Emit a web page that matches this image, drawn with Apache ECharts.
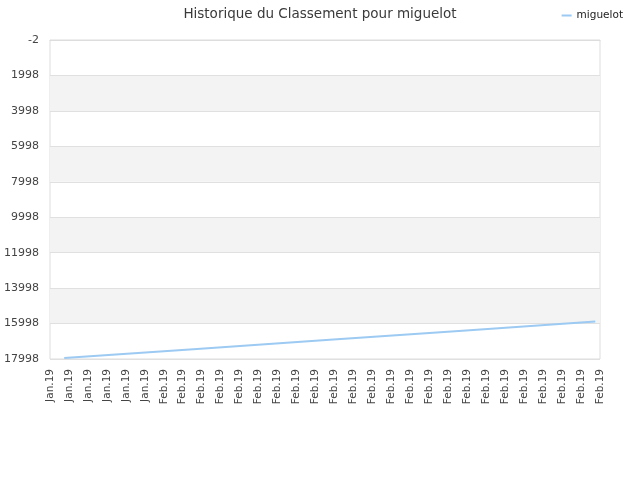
<!DOCTYPE html>
<html>
<head>
<meta charset="utf-8">
<script src="https://cdn.jsdelivr.net/npm/echarts@6/dist/echarts.min.js"></script>
<style>html,body{margin:0;padding:0;background:#fff}#c{width:640px;height:480px}</style>
</head>
<body>
<div id="c"></div>
<script>
const titleText = 'Historique du Classement pour miguelot';
const seriesName = 'miguelot';
// 117 categories: 23 x Jan.19, 94 x Feb.19
const categories = [
  'Jan.19','Jan.19','Jan.19','Jan.19','Jan.19','Jan.19','Jan.19','Jan.19','Jan.19','Jan.19', // 10
  'Jan.19','Jan.19','Jan.19','Jan.19','Jan.19','Jan.19','Jan.19','Jan.19','Jan.19','Jan.19', // 20
  'Jan.19','Jan.19','Jan.19',                                                                 // 23
  'Feb.19','Feb.19','Feb.19','Feb.19','Feb.19','Feb.19','Feb.19','Feb.19','Feb.19','Feb.19', // 10
  'Feb.19','Feb.19','Feb.19','Feb.19','Feb.19','Feb.19','Feb.19','Feb.19','Feb.19','Feb.19', // 20
  'Feb.19','Feb.19','Feb.19','Feb.19','Feb.19','Feb.19','Feb.19','Feb.19','Feb.19','Feb.19', // 30
  'Feb.19','Feb.19','Feb.19','Feb.19','Feb.19','Feb.19','Feb.19','Feb.19','Feb.19','Feb.19', // 40
  'Feb.19','Feb.19','Feb.19','Feb.19','Feb.19','Feb.19','Feb.19','Feb.19','Feb.19','Feb.19', // 50
  'Feb.19','Feb.19','Feb.19','Feb.19','Feb.19','Feb.19','Feb.19','Feb.19','Feb.19','Feb.19', // 60
  'Feb.19','Feb.19','Feb.19','Feb.19','Feb.19','Feb.19','Feb.19','Feb.19','Feb.19','Feb.19', // 70
  'Feb.19','Feb.19','Feb.19','Feb.19','Feb.19','Feb.19','Feb.19','Feb.19','Feb.19','Feb.19', // 80
  'Feb.19','Feb.19','Feb.19','Feb.19','Feb.19','Feb.19','Feb.19','Feb.19','Feb.19','Feb.19', // 90
  'Feb.19','Feb.19','Feb.19','Feb.19'                                                         // 94
];
// [category index, rank]
const rankPoints = [[3, 17950], [31, 17430], [59, 16920], [87, 16400], [115, 15880]];
const yTickValues = [-2, 1998, 3998, 5998, 7998, 9998, 11998, 13998, 15998, 17998];
const yOffset = 2;

const chart = echarts.init(document.getElementById('c'));
chart.setOption({
  animation: false,
  backgroundColor: '#fff',
  textStyle: { fontFamily: 'DejaVu Sans' },
  title: {
    text: titleText, left: 'center', top: 2,
    textStyle: { fontSize: 13.5, fontWeight: 'normal', color: '#3a3a3a', fontFamily: 'DejaVu Sans' }
  },
  legend: {
    data: [seriesName], right: 12, top: 5,
    itemWidth: 10, itemHeight: 2, itemGap: 10,
    icon: 'rect',
    textStyle: { fontSize: 10.5, color: '#222', fontFamily: 'DejaVu Sans' }
  },
  grid: { left: 50, right: 40, top: 40, bottom: 121, show: true, borderColor: '#ddd', borderWidth: 1 },
  xAxis: {
    type: 'category', data: categories, boundaryGap: false,
    axisLine: { lineStyle: { color: '#ddd' } },
    axisTick: { show: false },
    axisLabel: { interval: 3, rotate: 90, fontSize: 10.5, color: '#444', margin: 10, fontFamily: 'DejaVu Sans' },
    splitLine: { show: false }
  },
  yAxis: {
    type: 'value', inverse: true,
    min: yTickValues[0] + yOffset, max: yTickValues[yTickValues.length - 1] + yOffset, interval: 2000,
    axisLine: { show: false }, axisTick: { show: false },
    axisLabel: { fontSize: 11, color: '#444', margin: 11, formatter: v => String(v - yOffset), fontFamily: 'DejaVu Sans' },
    splitLine: { show: true, lineStyle: { color: '#e0e0e0' } },
    splitArea: { show: true, areaStyle: { color: ['rgba(255,255,255,0)', '#f3f3f3'] } }
  },
  series: [{
    name: seriesName, type: 'line', data: rankPoints,
    showSymbol: false, symbol: 'none', connectNulls: true,
    lineStyle: { color: '#9ccaf2', width: 2 },
    itemStyle: { color: '#9ccaf2' }
  }]
});
</script>
</body>
</html>
